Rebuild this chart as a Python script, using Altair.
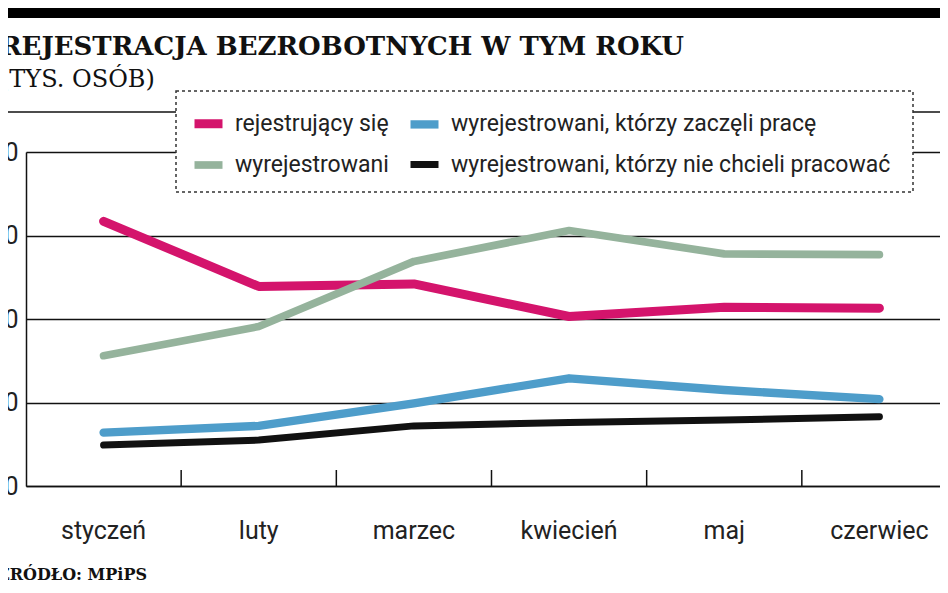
import altair as alt
import pandas as pd

months = ["styczeń", "luty", "marzec", "kwiecień", "maj", "czerwiec"]
series_names = [
    "rejestrujący się",
    "wyrejestrowani, którzy zaczęli pracę",
    "wyrejestrowani",
    "wyrejestrowani, którzy nie chcieli pracować",
]
rejestrujacy = [317, 239, 242, 203, 214, 213]
zaczeli = [64, 72, 99, 129, 115, 104]
wyrejestrowani = [156, 191, 269, 306, 278, 277]
nie_chcieli = [49, 55, 72, 76, 79, 83]
colors = ["#d4146c", "#4e9dca", "#95b39c", "#111111"]
widths = [9, 7, 7, 7]
y_ticks = [0, 100, 200, 300, 400]
title_text = "REJESTRACJA BEZROBOTNYCH W TYM ROKU"
subtitle_text = "(TYS. OSÓB)"
source_text = "ŹRÓDŁO: MPiPS"

SANS = "Roboto, sans-serif"
SERIF = "DejaVu Serif, serif"

values_by_series = {
    series_names[0]: rejestrujacy,
    series_names[1]: zaczeli,
    series_names[2]: wyrejestrowani,
    series_names[3]: nie_chcieli,
}
draw_order = [series_names[3], series_names[1], series_names[0], series_names[2]]
rows = []
for s in draw_order:
    for m, v in zip(months, values_by_series[s]):
        rows.append({"miesiac": m, "seria": s, "wartosc": v})
df = pd.DataFrame(rows)

W, H = 931, 334
xscale = alt.Scale(type="band", domain=months, paddingInner=0, paddingOuter=0)

one = pd.DataFrame({"a": [0]})

top_bar = alt.Chart(one).mark_rect(color="black").encode(
    x=alt.value(-40), x2=alt.value(W + 20), y=alt.value(-150), y2=alt.value(-134)
)
frame_line = alt.Chart(one).mark_rule(color="#111", strokeWidth=1.5).encode(
    x=alt.value(-40), x2=alt.value(W + 20), y=alt.value(-40)
)
legend_box = alt.Chart(one).mark_rect(
    fill="white", stroke="#333", strokeWidth=1.5, strokeDash=[3, 3]
).encode(x=alt.value(150), x2=alt.value(887), y=alt.value(-61), y2=alt.value(40))

lines = alt.Chart(df).mark_line(strokeCap="round", strokeJoin="round").encode(
    x=alt.X("miesiac:N", sort=months, scale=xscale,
            axis=alt.Axis(title=None, ticks=False, labelAngle=0, labelFont=SANS,
                          labelFontSize=25, labelColor="#222", labelPadding=52,
                          labelBaseline="alphabetic", domainColor="#111",
                          domainWidth=1.5)),
    y=alt.Y("wartosc:Q", scale=alt.Scale(domain=[0, 400], nice=False),
            axis=alt.Axis(title=None, values=y_ticks, ticks=False, grid=True,
                          gridColor="#111", gridWidth=1.5, domainColor="#111",
                          domainWidth=1.5, labelFont=SANS, labelFontSize=25,
                          labelColor="#222", labelPadding=8)),
    color=alt.Color("seria:N", scale=alt.Scale(domain=series_names, range=colors),
                    legend=alt.Legend(title=None, orient="none", legendX=150, legendY=-61,
                                      columns=2, direction="horizontal",
                                      symbolType="stroke", symbolSize=784,
                                      symbolStrokeWidth=8, labelFont=SANS,
                                      labelFontSize=23, labelColor="#222",
                                      labelOffset=8, columnPadding=4, rowPadding=5,
                                      padding=14, labelLimit=600, zindex=2)),
    strokeWidth=alt.StrokeWidth("seria:N", scale=alt.Scale(domain=series_names, range=widths),
                                legend=None),
    detail="seria:N",
)

ticks_df = pd.DataFrame({"miesiac": months[1:]})
ticks = alt.Chart(ticks_df).mark_rule(color="#111", strokeWidth=1.5).encode(
    x=alt.X("miesiac:N", sort=months, scale=xscale, bandPosition=0),
    y=alt.value(H - 16), y2=alt.value(H),
)

title_df = pd.DataFrame({"t": [title_text]})
title = alt.Chart(title_df).mark_text(
    font=SERIF, fontWeight="bold", fontSize=26, align="left", baseline="alphabetic", color="#111"
).encode(text="t:N", x=alt.value(-26), y=alt.value(-97))

subtitle_df = pd.DataFrame({"t": [subtitle_text]})
subtitle = alt.Chart(subtitle_df).mark_text(
    font=SERIF, fontSize=24, align="left", baseline="alphabetic", color="#111"
).encode(text="t:N", x=alt.value(-26), y=alt.value(-65))

source_df = pd.DataFrame({"t": [source_text]})
source = alt.Chart(source_df).mark_text(
    font=SERIF, fontWeight="bold", fontSize=16, align="left", baseline="alphabetic", color="#111"
).encode(text="t:N", x=alt.value(-28), y=alt.value(428))

chart = alt.layer(top_bar, frame_line, legend_box, lines, ticks, title, subtitle, source).properties(
    width=W, height=H,
    autosize=alt.AutoSizeParams(type="none"),
    padding={"left": 18, "top": 144, "right": -17, "bottom": 96},
).configure_view(stroke=None).configure(background="white")

chart.save("out.html", embed_options={"renderer": "svg", "actions": False})
